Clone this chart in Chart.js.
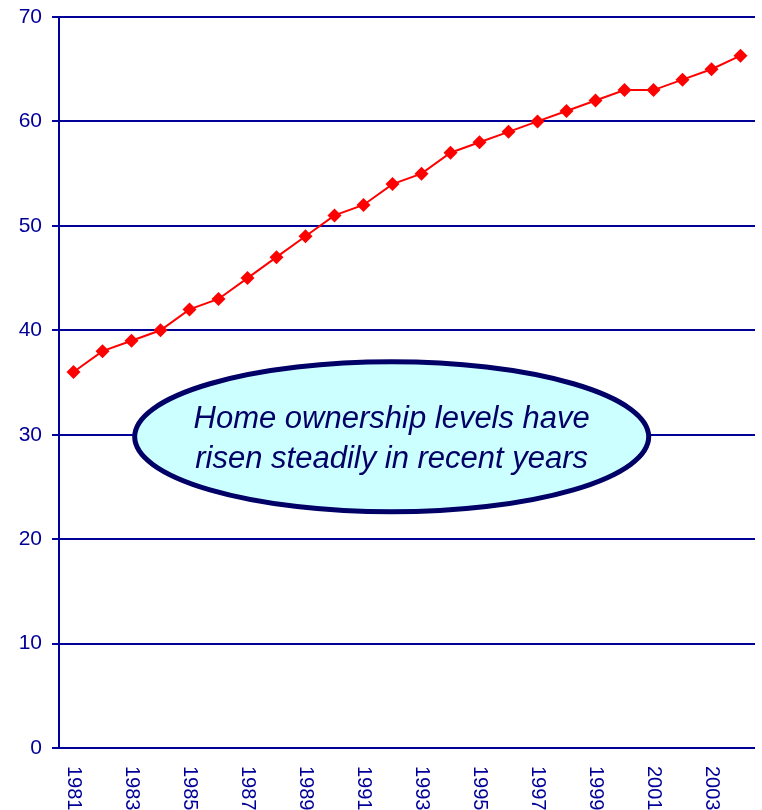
<!DOCTYPE html>
<html>
<head>
<meta charset="utf-8">
<script src="https://cdn.jsdelivr.net/npm/chart.js@4"></script>
<style>
  html, body { margin: 0; padding: 0; background: #fff; }
  #wrap { width: 762px; height: 810px; }
</style>
</head>
<body>
<div id="wrap"><canvas id="ownership"></canvas></div>
<script>
// years on the x axis
var years = ["1981", "1982", "1983", "1984", "1985", "1986", "1987", "1988",
  "1989", "1990", "1991", "1992", "1993", "1994", "1995", "1996",
  "1997", "1998", "1999", "2000", "2001", "2002", "2003", "2004"];
// home ownership levels (%)
var ownership = [36, 38, 39, 40, 42, 43, 45, 47, 49, 51, 52, 54, 55, 57,
  58, 59, 60, 61, 62, 63, 63, 64, 65, 66.3];
var yTicks = [0, 10, 20, 30, 40, 50, 60, 70];
var calloutLines = ["Home ownership levels have", "risen steadily in recent years"];

var navy = "#000099";

// x labels read top to bottom, every second year
var rotatedLabels = {
  id: "rotatedLabels",
  afterDraw: function (chart) {
    var ctx = chart.ctx;
    var xs = chart.scales.x;
    ctx.save();
    ctx.fillStyle = navy;
    ctx.font = "20px 'Liberation Sans', Arial, sans-serif";
    ctx.textAlign = "left";
    ctx.textBaseline = "middle";
    for (var i = 0; i < years.length; i += 2) {
      var x = xs.getPixelForTick(i);
      ctx.save();
      ctx.translate(x, chart.chartArea.bottom + 18);
      ctx.rotate(Math.PI / 2);
      ctx.fillText(years[i], 0, 0);
      ctx.restore();
    }
    ctx.restore();
  },
};

// the ellipse with the note
var callout = {
  id: "callout",
  afterDatasetsDraw: function (chart) {
    var ctx = chart.ctx;
    var a = chart.chartArea;
    var cx = a.left + (a.right - a.left) * 0.478;
    var cy = chart.scales.y.getPixelForValue(29.8);
    ctx.save();
    ctx.beginPath();
    ctx.ellipse(cx, cy, 257, 75, 0, 0, Math.PI * 2);
    ctx.fillStyle = "#CCFFFF";
    ctx.fill();
    ctx.lineWidth = 5;
    ctx.strokeStyle = "#000066";
    ctx.stroke();
    ctx.fillStyle = "#000066";
    ctx.font = "italic 31px 'Liberation Sans', Arial, sans-serif";
    ctx.textAlign = "center";
    ctx.textBaseline = "middle";
    ctx.fillText(calloutLines[0], cx, cy - 17);
    ctx.fillText(calloutLines[1], cx, cy + 23);
    ctx.restore();
  },
};

var chart = new Chart(document.getElementById("ownership").getContext("2d"), {
  type: "line",
  data: {
    labels: years,
    datasets: [
      {
        label: "Home ownership",
        data: ownership,
        borderColor: "#FF0000",
        backgroundColor: "#FF0000",
        borderWidth: 2,
        pointStyle: "rectRot",
        pointRadius: 7,
        pointBorderWidth: 0,
        fill: false,
        tension: 0,
      },
    ],
  },
  options: {
    responsive: true,
    maintainAspectRatio: false,
    animation: false,
    layout: { padding: { top: 17, right: 7, left: 0, bottom: 0 } },
    plugins: {
      legend: { display: false },
      tooltip: { enabled: false },
    },
    scales: {
      x: {
        offset: true,
        grid: { display: false },
        border: { display: false },
        ticks: { display: false },
        afterFit: function (scale) {
          scale.height = 62;
        },
      },
      y: {
        min: 0,
        max: 70,
        afterBuildTicks: function (scale) {
          scale.ticks = yTicks.map(function (v) {
            return { value: v };
          });
        },
        grid: {
          color: navy,
          lineWidth: 2,
          tickLength: 7,
          drawTicks: true,
        },
        border: { display: true, color: navy, width: 2 },
        ticks: {
          color: navy,
          padding: 10,
          font: { family: "'Liberation Sans', Arial, sans-serif", size: 21 },
        },
        afterFit: function (scale) {
          scale.width = 59;
          scale.paddingTop = 0;
          scale.paddingBottom = 0;
        },
      },
    },
  },
  plugins: [rotatedLabels, callout],
});
</script>
</body>
</html>
